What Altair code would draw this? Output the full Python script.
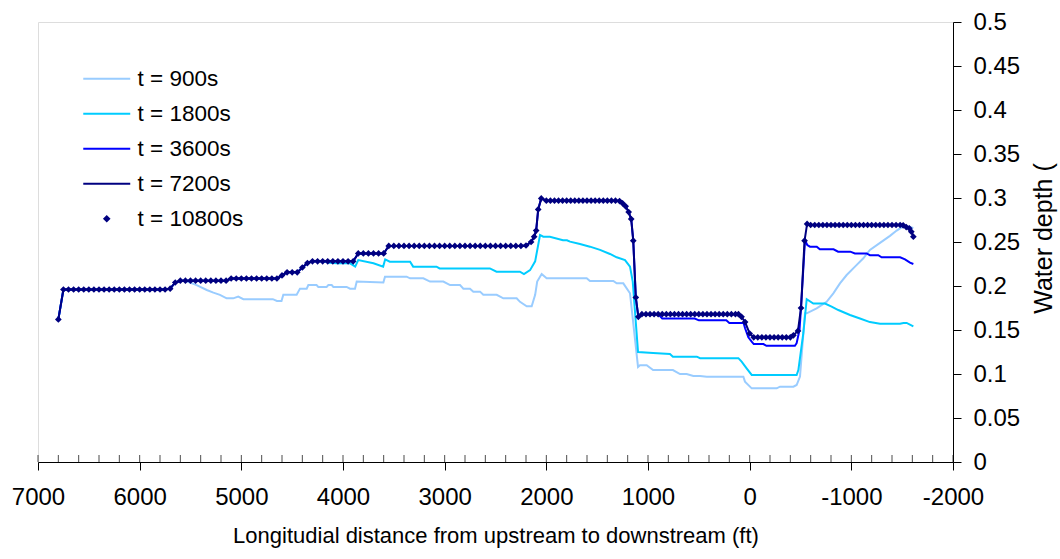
import altair as alt
import pandas as pd

# Computational stations (ft, measured from the downstream control) and the
# late-time water depth (ft) at each station.
station_10800 = [
    6800, 6750, 6700, 6650, 6600, 6550, 6500, 6450, 6400, 6350,
    6300, 6250, 6200, 6150, 6100, 6050, 6000, 5950, 5900, 5850,
    5800, 5750, 5700, 5650, 5600, 5550, 5500, 5450, 5400, 5350,
    5300, 5250, 5200, 5150, 5100, 5050, 5000, 4950, 4900, 4850,
    4800, 4750, 4700, 4650, 4600, 4550, 4500, 4450, 4400, 4350,
    4300, 4250, 4200, 4150, 4100, 4050, 4000, 3950, 3900, 3850,
    3800, 3750, 3700, 3650, 3600, 3550, 3500, 3450, 3400, 3350,
    3300, 3250, 3200, 3150, 3100, 3050, 3000, 2950, 2900, 2850,
    2800, 2750, 2700, 2650, 2600, 2550, 2500, 2450, 2400, 2350,
    2300, 2250, 2200, 2150, 2120, 2100, 2080, 2050,
    2000, 1960, 1920, 1880, 1840, 1800, 1760, 1720, 1680, 1640,
    1600, 1560, 1520, 1480, 1440, 1400, 1360, 1320,
    1280, 1250, 1220, 1190, 1165, 1145, 1120, 1095,
    1060, 1020, 980, 940, 900, 860, 820, 780, 740, 700,
    660, 620, 580, 540, 500, 460, 420, 380, 340, 300,
    260, 220, 180, 140, 110, 80, 45, 0,
    -40, -80, -120, -160, -200, -240, -280, -320, -360, -400,
    -430, -475, -505, -540, -565,
    -600, -640, -680, -720, -760, -800, -840, -880, -920, -960,
    -1000, -1040, -1080, -1120, -1160, -1200, -1240, -1280, -1320, -1360,
    -1400, -1440, -1480,
    -1510, -1540, -1570, -1590, -1610,
]
depth_10800 = [
    0.162, 0.196, 0.196, 0.196, 0.196, 0.196, 0.196, 0.196, 0.196, 0.196,
    0.196, 0.196, 0.196, 0.196, 0.196, 0.196, 0.196, 0.196, 0.196, 0.196,
    0.196, 0.196, 0.197, 0.204, 0.206, 0.206, 0.206, 0.206, 0.206, 0.206,
    0.206, 0.206, 0.206, 0.206, 0.2085, 0.2085, 0.2085, 0.2085, 0.2085, 0.2085,
    0.2085, 0.2085, 0.2085, 0.2085, 0.212, 0.2155, 0.2155, 0.2155, 0.221, 0.226,
    0.228, 0.228, 0.228, 0.228, 0.228, 0.228, 0.228, 0.228, 0.228, 0.237,
    0.237, 0.237, 0.237, 0.237, 0.237, 0.2455, 0.2455, 0.2455, 0.2455, 0.2455,
    0.2455, 0.2455, 0.2455, 0.2455, 0.2455, 0.2455, 0.2455, 0.2455, 0.2455, 0.2455,
    0.2455, 0.2455, 0.2455, 0.2455, 0.2455, 0.2455, 0.2455, 0.2455, 0.2455, 0.2455,
    0.2455, 0.2455, 0.246, 0.250, 0.256, 0.263, 0.287, 0.2995,
    0.297, 0.297, 0.297, 0.297, 0.297, 0.297, 0.297, 0.297, 0.297, 0.297,
    0.297, 0.297, 0.297, 0.297, 0.297, 0.297, 0.297, 0.297,
    0.2965, 0.294, 0.2905, 0.284, 0.276, 0.2515, 0.187, 0.165,
    0.168, 0.168, 0.168, 0.168, 0.168, 0.168, 0.168, 0.168, 0.168, 0.168,
    0.168, 0.168, 0.168, 0.168, 0.168, 0.168, 0.168, 0.168, 0.168, 0.168,
    0.168, 0.168, 0.168, 0.168, 0.168, 0.165, 0.159, 0.146,
    0.1417, 0.1417, 0.1417, 0.1417, 0.1417, 0.1417, 0.1417, 0.1417, 0.1417, 0.1417,
    0.144, 0.149, 0.175, 0.2515, 0.2705,
    0.2693, 0.2693, 0.2693, 0.2693, 0.2693, 0.2693, 0.2693, 0.2693, 0.2693, 0.2693,
    0.2693, 0.2693, 0.2693, 0.2693, 0.2693, 0.2693, 0.2693, 0.2693, 0.2693, 0.2693,
    0.2693, 0.2693, 0.2693,
    0.269, 0.267, 0.2655, 0.2617, 0.256,
]

# At 7200 s the profile has settled onto the 10800 s profile.
depth_7200 = list(depth_10800)

# Earlier profiles follow the settled profile upstream and split off below
# the given station.
split_3600 = 900
station_3600_tail = [860, 540, 500, 230, 200, 60, 45, 13, -20, -40, -135, -165,
                     -445, -462, -490, -505, -544, -567, -593, -660, -690,
                     -825, -870, -990, -1035, -1150, -1183, -1265, -1298,
                     -1480, -1528, -1577, -1610]
depth_3600_tail = [0.163, 0.163, 0.161, 0.161, 0.158, 0.158, 0.152, 0.1417,
                   0.1367, 0.134, 0.134, 0.132, 0.132, 0.135, 0.150, 0.175,
                   0.252, 0.2466, 0.2447, 0.2447, 0.2417, 0.2417, 0.239,
                   0.239, 0.237, 0.237, 0.235, 0.235, 0.2326, 0.2326, 0.2303,
                   0.2265, 0.225]

split_1800 = 4200
station_1800_tail = [4130, 4060, 3930, 3880, 3850, 3700, 3605, 3585, 3540, 3340,
                     3310, 3080, 3050, 2555, 2490, 2260, 2220, 2160, 2110, 2062,
                     2030, 1965, 1836, 1797, 1767, 1669, 1571, 1472, 1374, 1308,
                     1226, 1177, 1150, 1098, 950, 784, 755, 520, 488, 111, 79,
                     30, -20, -462, -479, -528, -561, -626, -741, -806, -872,
                     -987, -1085, -1183, -1282, -1479, -1512, -1544, -1610]
depth_1800_tail = [0.2265, 0.2258, 0.2258, 0.222, 0.2295, 0.2258, 0.222, 0.2303,
                   0.2276, 0.2276, 0.222, 0.222, 0.220, 0.220, 0.2163, 0.2163,
                   0.2135, 0.218, 0.228, 0.258, 0.256, 0.256, 0.252, 0.252,
                   0.2504, 0.2477, 0.2447, 0.241, 0.2364, 0.2326, 0.2295,
                   0.222, 0.205, 0.125, 0.124, 0.1227, 0.1197, 0.1197, 0.118,
                   0.118, 0.114, 0.1064, 0.0989, 0.0989, 0.1045, 0.1466, 0.185,
                   0.180, 0.180, 0.1765, 0.1727, 0.167, 0.163, 0.159, 0.157,
                   0.157, 0.158, 0.158, 0.154]

split_900 = 5550
station_900_tail = [5440, 5340, 5275, 5210, 5145, 5080, 5030, 4980, 4690, 4650,
                    4605, 4587, 4456, 4423, 4357, 4341, 4260, 4243, 4161, 4144,
                    4111, 4095, 3964, 3931, 3882, 3865, 3603, 3587, 3374, 3341,
                    3210, 3144, 3013, 2947, 2849, 2816, 2751, 2718, 2652, 2620,
                    2488, 2423, 2292, 2259, 2193, 2144, 2110, 2090, 2046, 1997,
                    1603, 1571, 1341, 1308, 1243, 1177, 1098, 1079, 1013, 950,
                    755, 685, 620, 554, 488, 422, 62, 46, -20, -266, -298,
                    -430, -462, -495, -544, -561, -659, -757, -823, -888,
                    -954, -1036, -1118, -1183, -1282, -1380, -1446, -1495,
                    -1545, -1610]
depth_900_tail = [0.201, 0.1955, 0.1925, 0.190, 0.186, 0.186, 0.188, 0.185,
                  0.185, 0.183, 0.183, 0.190, 0.190, 0.197, 0.197, 0.201,
                  0.201, 0.199, 0.199, 0.201, 0.201, 0.199, 0.199, 0.197,
                  0.197, 0.205, 0.204, 0.2106, 0.2106, 0.2087, 0.2087, 0.205,
                  0.205, 0.201, 0.201, 0.197, 0.197, 0.1936, 0.1936, 0.190,
                  0.190, 0.186, 0.186, 0.182, 0.177, 0.177, 0.190, 0.205,
                  0.2136, 0.2087, 0.2087, 0.2057, 0.2057, 0.203, 0.203,
                  0.1917, 0.108, 0.110, 0.110, 0.1045, 0.1045, 0.100, 0.100,
                  0.0977, 0.0977, 0.097, 0.097, 0.0913, 0.0837, 0.0837,
                  0.0856, 0.0856, 0.0875, 0.097, 0.169, 0.169, 0.1746, 0.182,
                  0.1917, 0.203, 0.2125, 0.222, 0.2315, 0.241, 0.249, 0.257,
                  0.263, 0.2667, 0.268, 0.266]

series_names = ["t = 900s", "t = 1800s", "t = 3600s", "t = 7200s", "t = 10800s"]
series_colors = ["#99CCFF", "#00CCFF", "#0000FF", "#000080", "#000080"]

x_ticks = [7000, 6000, 5000, 4000, 3000, 2000, 1000, 0, -1000, -2000]
y_ticks = [0, 0.05, 0.1, 0.15, 0.2, 0.25, 0.3, 0.35, 0.4, 0.45, 0.5]
minor_tick_ft = list(range(-2000, 7001, 200))


def upstream_of(limit):
    return [(s, d) for s, d in zip(station_10800, depth_10800) if s >= limit]


profiles = {
    "t = 900s": upstream_of(split_900) + list(zip(station_900_tail, depth_900_tail)),
    "t = 1800s": upstream_of(split_1800) + list(zip(station_1800_tail, depth_1800_tail)),
    "t = 3600s": upstream_of(split_3600) + list(zip(station_3600_tail, depth_3600_tail)),
    "t = 7200s": list(zip(station_10800, depth_7200)),
    "t = 10800s": list(zip(station_10800, depth_10800)),
}
rows = []
for name, pairs in profiles.items():
    rows += [{"series": name, "ft": s, "depth": d} for s, d in pairs]
df = pd.DataFrame(rows)
ticks_df = pd.DataFrame({"ft": minor_tick_ft})

FONT = "Liberation Sans"
line_path = "M-7.83,0H7.83"
diamond_path = "M0,-0.8L0.8,0L0,0.8L-0.8,0Z"

legend = alt.Legend(
    title=None, orient="none", legendX=57.5, legendY=45.5,
    labelFontSize=22.5, labelFont=FONT, labelColor="black", labelOffset=19.5,
    rowPadding=12, symbolStrokeWidth=2, symbolSize=36, padding=0,
    symbolFillColor="#000080",
)

x_enc = alt.X(
    "ft:Q",
    scale=alt.Scale(domain=[-2000, 7000], reverse=True, nice=False, zero=False),
    axis=alt.Axis(
        values=x_ticks, labelExpr="'' + datum.value", tickSize=8, tickColor="black",
        domainColor="black", labelPadding=15, labelFontSize=24, labelColor="black",
        labelFont=FONT, grid=False, labelFlush=False,
        title="Longitudial distance from upstream to downstream (ft)",
        titleFontSize=22, titleFont=FONT, titleFontWeight="normal",
        titleColor="black", titleY=80, titleBaseline="alphabetic",
    ),
)
y_enc = alt.Y(
    "depth:Q",
    scale=alt.Scale(domain=[0, 0.5], nice=False, zero=True),
    axis=alt.Axis(
        orient="right", values=y_ticks, labelExpr="'' + datum.value", tickSize=8,
        tickColor="black", domainColor="black", labelPadding=12, labelFontSize=24,
        labelColor="black", labelFont=FONT, labelAlign="left", grid=False,
        title="Water depth (", titleFontSize=25, titleFont=FONT,
        titleFontWeight="normal", titleColor="black", titleAngle=270,
        titleX=98, titleY=216, titleAlign="center", titleBaseline="alphabetic",
    ),
)
color_enc = alt.Color(
    "series:N", scale=alt.Scale(domain=series_names, range=series_colors), legend=legend
)
shape_enc = alt.Shape(
    "series:N",
    scale=alt.Scale(domain=series_names, range=[line_path] * 4 + [diamond_path]),
    legend=legend,
)

base = alt.Chart(df)
layers = []
for name in series_names[:4]:
    layers.append(
        base.transform_filter(alt.datum.series == name)
        .mark_line(strokeWidth=2)
        .encode(x=x_enc, y=y_enc, color=color_enc)
    )
layers.append(
    base.transform_filter(alt.datum.series == series_names[4])
    .mark_point(filled=True, size=70, opacity=1)
    .encode(x=x_enc, y=y_enc, color=color_enc, shape=shape_enc)
)
inner_ticks = (
    alt.Chart(ticks_df)
    .mark_tick(orient="vertical", size=7, thickness=1, color="black", yOffset=-3.5)
    .encode(x=x_enc, y=alt.datum(0))
)
layers.append(inner_ticks)

chart = (
    alt.layer(*layers)
    .properties(
        width=915, height=440, background="white",
        autosize=alt.AutoSizeParams(type="none"),
        padding={"left": 38, "top": 22, "right": 107, "bottom": 97},
    )
    .configure_view(stroke="#888888", strokeWidth=1)
    .configure(font=FONT)
)

chart.save("out.html", embed_options={"renderer": "svg", "actions": False})
